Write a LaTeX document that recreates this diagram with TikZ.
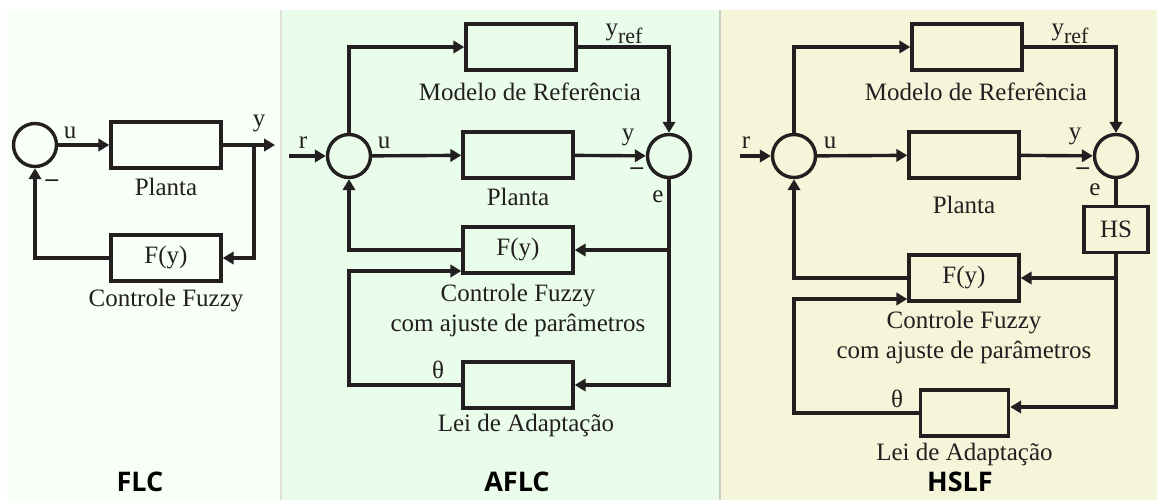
\documentclass[tikz,border=0pt]{standalone}
\usepackage{fontspec}
\setmainfont{Liberation Serif}
\newfontfamily\ttlfont{Open Sans}
\usepackage{tikz}
\usetikzlibrary{arrows.meta, positioning}
\definecolor{ink}{HTML}{231F20}
\definecolor{flcbg}{HTML}{F7FFF7}
\definecolor{aflcbg}{HTML}{EAFDEA}
\definecolor{hslfbg}{HTML}{F5F5D9}
\definecolor{sepgray}{HTML}{C9CCC4}
\tikzset{
  blk/.style={
    rectangle, draw=ink, line width=1.7pt,
    minimum width=55pt, minimum height=23pt, inner sep=0pt,
    font=\fontsize{12.5}{15}\selectfont, text=ink
  },
  sumnode/.style={
    circle, draw=ink, line width=1.7pt,
    minimum size=21.5pt, inner sep=0pt
  },
  lbl/.style={
    font=\fontsize{12.5}{15}\selectfont, text=ink,
    inner sep=1pt, align=center
  },
  sig/.style={
    font=\fontsize{12.5}{15}\selectfont, text=ink,
    inner sep=0pt, anchor=base
  },
  ttl/.style={font=\ttlfont\bfseries\fontsize{13.5}{16}\selectfont},
  arr/.style={
    -{Triangle[length=5.5pt,width=6.2pt]},
    draw=ink, line width=1.7pt
  },
  ln/.style={draw=ink, line width=1.7pt},
}
\newcommand{\yref}{y\raisebox{-4pt}{\fontsize{11}{12}\selectfont ref}}
\newcommand{\negsign}{\textbf{–}}

\begin{document}
\begin{tikzpicture}[x=0.5pt, y=-0.5pt]
  \useasboundingbox (0,0) rectangle (1157,500);
  % panels
  \fill[flcbg]  (7,10)   rectangle (281,500);
  \fill[aflcbg] (281,10) rectangle (720,500);
  \fill[hslfbg] (720,10) rectangle (1157,500);
  \draw[sepgray!60, line width=0.6pt] (281,10) -- (281,500);
  \draw[sepgray, line width=1pt] (720,10) -- (720,500);

  % ---- FLC ----
  \node[sumnode] (s1) at (35,145) {};
  \node[blk] (p1) at (166,145) {};
  \node[lbl, below=3pt of p1] (p1lbl) {Planta};
  \node[blk] (f1) at (166,258) {F(y)};
  \node[lbl, below=2pt of f1] (f1lbl) {Controle Fuzzy};
  \coordinate (o1) at (275,145);
  \coordinate (b1) at (254,145);
  \draw[arr] (s1) -- (p1);
  \draw[arr] (p1) -- (o1);
  \draw[arr] (b1) |- (f1);
  \draw[arr] (f1) -| (s1);
  \node[sig] (u1) at (70,138) {u};
  \node[sig] (y1) at (259,126) {y};
  \node[lbl] (n1) at (52,183) {\negsign};
  \node[ttl] (t1) at (140,482) {FLC};

  % ---- AFLC ----
  \node[sumnode] (s2) at (349,156) {};
  \node[sumnode] (e2) at (669,156) {};
  \node[blk] (m2) at (521,47) {};
  \node[lbl, below=4.5pt of m2, xshift=4.5pt] (m2lbl) {Modelo de Referência};
  \node[blk] (p2) at (518,155) {};
  \node[lbl, below=3pt of p2] (p2lbl) {Planta};
  \node[blk] (f2) at (518,250) {F(y)};
  \node[lbl, below=3.5pt of f2] (f2lbl) {Controle Fuzzy\\com ajuste de parâmetros};
  \node[blk] (l2) at (518,385) {};
  \node[lbl, below=1pt of l2, xshift=4pt] (l2lbl) {Lei de Adaptação};
  \coordinate (r2) at (289,156);
  \coordinate (k2) at (349,271);
  \draw[arr] (r2) -- (s2);
  \draw[arr] (s2) |- (m2);
  \draw[arr] (m2) -| (e2);
  \draw[arr] (s2) -- (p2);
  \draw[arr] (p2) -- (e2);
  \draw[arr] (e2) |- (l2);
  \draw[arr] (f2.east -| e2) -- (f2);
  \draw[arr] (f2) -| (s2);
  \draw[arr] (l2) -| (k2) -- (k2 -| f2.west);
  \node[sig] (rl2) at (303,148) {r};
  \node[sig] (u2) at (384,148) {u};
  \node[sig] (y2) at (628,140) {y};
  \node[sig] (yr2) at (624,35) {\yref};
  \node[lbl] (n2) at (637,171) {\negsign};
  \node[sig] (er2) at (658,202) {e};
  \node[sig] (th2) at (438,378) {θ};
  \node[ttl] (t2) at (517,482) {AFLC};

  % ---- HSLF ----
  \node[sumnode] (s3) at (794,156) {};
  \node[sumnode] (e3) at (1116,156) {};
  \node[blk] (m3) at (967,47) {};
  \node[lbl, below=4.5pt of m3, xshift=4.5pt] (m3lbl) {Modelo de Referência};
  \node[blk] (p3) at (964,155) {};
  \node[lbl, below=7pt of p3] (p3lbl) {Planta};
  \node[blk, minimum width=32pt] (h3) at (1116,229.5) {HS};
  \node[blk] (f3) at (964,278) {F(y)};
  \node[lbl, below=3pt of f3] (f3lbl) {Controle Fuzzy\\com ajuste de parâmetros};
  \node[blk, minimum width=44pt] (l3) at (964.5,413) {};
  \node[lbl, below=1.5pt of l3] (l3lbl) {Lei de Adaptação};
  \coordinate (r3) at (740,156);
  \coordinate (k3) at (794,299);
  \draw[arr] (r3) -- (s3);
  \draw[arr] (s3) |- (m3);
  \draw[arr] (m3) -| (e3);
  \draw[arr] (s3) -- (p3);
  \draw[arr] (p3) -- (e3);
  \draw[ln] (e3) -- (h3);
  \draw[arr] (h3) |- ([yshift=3pt]l3.east);
  \draw[arr] (f3.east -| h3) -- (f3);
  \draw[arr] (f3) -| (s3);
  \draw[arr] (l3) -| (k3) -- (k3 -| f3.west);
  \node[sig] (rl3) at (746,148) {r};
  \node[sig] (u3) at (830,148) {u};
  \node[sig] (y3) at (1075,139) {y};
  \node[sig] (yr3) at (1070,35) {\yref};
  \node[lbl] (n3) at (1083,171) {\negsign};
  \node[sig] (er3) at (1095,195) {e};
  \node[sig] (th3) at (897,407) {θ};
  \node[ttl] (t3) at (960,482) {HSLF};
\end{tikzpicture}
\end{document}
